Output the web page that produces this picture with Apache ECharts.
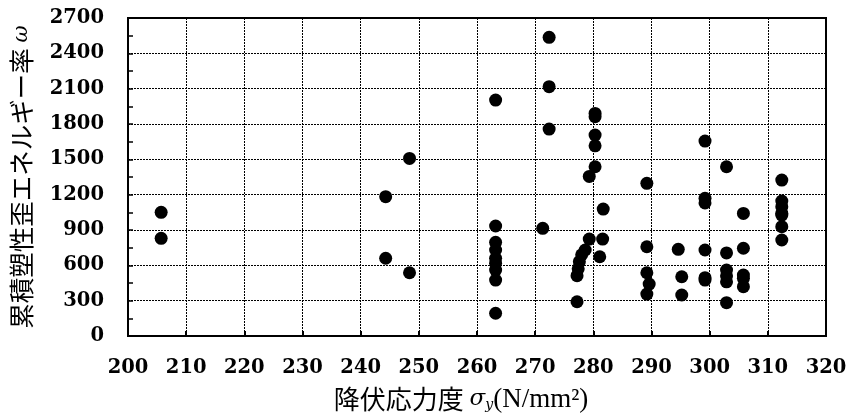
<!DOCTYPE html>
<html>
<head>
<meta charset="utf-8">
<script src="https://cdn.jsdelivr.net/npm/echarts@6/dist/echarts.min.js"></script>
<style>html,body{margin:0;padding:0;background:#fff}#c{width:848px;height:416px}</style>
</head>
<body>
<div id="c"></div>
<script>
// yield stress σy (N/mm²)
const xValues = [
  205.7, 205.7,
  244.3, 244.3,
  248.4, 248.4,
  263.2, 263.2, 263.2, 263.2, 263.2, 263.2, 263.2, 263.2, 263.2,
  271.3,
  272.4, 272.4, 272.4,
  277.2, 277.2, 277.4, 277.6, 278.0, 278.6, 279.3, 281.6, 281.1, 281.7,
  279.3, 280.3, 280.3, 280.3, 280.3, 280.3,
  289.2, 289.2, 289.2, 289.6, 289.2,
  294.6, 295.2, 295.2,
  299.2, 299.2, 299.2, 299.2, 299.2, 299.2,
  302.9, 302.9, 302.9, 302.9, 302.9, 302.9,
  305.8, 305.8, 305.8, 305.8, 305.8,
  312.4, 312.4, 312.4, 312.4, 312.4, 312.4, 312.4
];
// cumulative plastic strain energy ratio ω
const yValues = [
  1050, 829,
  1183, 660,
  1508, 537,
  2003, 934, 795, 730, 660, 617, 560, 475, 193,
  914,
  2536, 2117, 1757,
  512, 291, 570, 631, 690, 730, 823, 823, 673, 1078,
  1355, 1890, 1862, 1706, 1615, 1437,
  1296, 758, 537, 441, 356,
  736, 503, 348,
  1655, 1169, 1130, 730, 495, 475,
  1437, 705, 560, 510, 460, 283,
  1041, 745, 518, 490, 419,
  1324, 1146, 1098, 1027, 928, 815, 1041
];
const xTicks = [200, 320, 10];
const yTicks = [0, 2700, 300];

const points = xValues.map((x, i) => [x, yValues[i]]);

const chart = echarts.init(document.getElementById('c'));
const serifBold = {fontFamily: 'DejaVu Serif', fontWeight: 'bold', fontSize: 19.5, color: '#000', formatter: v => String(v)};
chart.setOption({
  backgroundColor: '#fff',
  animation: false,
  grid: {left: 128, right: 22, top: 18, bottom: 80, show: true, borderColor: '#000', borderWidth: 2,
         containLabel: false, outerBoundsMode: 'none'},
  xAxis: {
    type: 'value', min: xTicks[0], max: xTicks[1], interval: xTicks[2],
    axisLine: {show: true, lineStyle: {color: '#000', width: 2}},
    axisTick: {show: true, inside: true, length: 5, lineStyle: {color: '#000', width: 2}},
    splitLine: {show: true, lineStyle: {color: '#000', type: [2, 1], width: 1}},
    axisLabel: Object.assign({margin: 22}, serifBold),
    name: '{j|降伏応力度 }{s|σ}{sub|y}{n|(N/mm²)}',
    nameLocation: 'middle', nameGap: 50,
    nameTextStyle: {
      padding: [0, 32, 0, 0],
      rich: {
        j: {fontFamily: 'Noto Sans CJK JP', fontSize: 26, color: '#000'},
        s: {fontFamily: 'DejaVu Serif', fontStyle: 'italic', fontSize: 23, color: '#000'},
        sub: {fontFamily: 'DejaVu Serif', fontStyle: 'italic', fontSize: 14, color: '#000', padding: [12, 0, 0, 0]},
        n: {fontFamily: 'Liberation Serif', fontSize: 27, color: '#000'}
      }
    }
  },
  yAxis: {
    type: 'value', min: yTicks[0], max: yTicks[1], interval: yTicks[2],
    axisLine: {show: true, lineStyle: {color: '#000', width: 2}},
    axisTick: {show: true, inside: true, length: 5, lineStyle: {color: '#000', width: 1.5}},
    minorTick: {show: true, splitNumber: 2, length: 5, lineStyle: {color: '#000', width: 1.5}},
    splitLine: {show: true, lineStyle: {color: '#000', type: [2, 1], width: 1}},
    axisLabel: Object.assign({margin: 24}, serifBold),
    name: '{j|累積塑性歪エネルギー率 }{w|ω}',
    nameLocation: 'middle', nameGap: 94, nameRotate: 90,
    nameTextStyle: {
      rich: {
        j: {fontFamily: 'Noto Sans CJK JP', fontSize: 25.5, color: '#000'},
        w: {fontFamily: 'DejaVu Serif', fontStyle: 'italic', fontSize: 21, color: '#000'}
      }
    }
  },
  series: [{
    type: 'scatter',
    data: points,
    symbol: 'circle',
    symbolSize: 13,
    itemStyle: {color: '#000', opacity: 1}
  }]
});
</script>
</body>
</html>
